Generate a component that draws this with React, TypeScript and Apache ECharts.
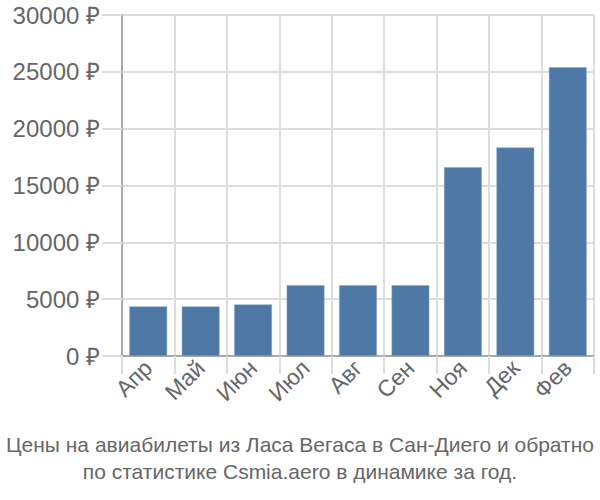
import React, { useEffect, useRef } from "react";
import * as echarts from "echarts";

const categories = ["Апр", "Май", "Июн", "Июл", "Авг", "Сен", "Ноя", "Дек", "Фев"];
const prices = [4360, 4360, 4540, 6220, 6220, 6220, 16600, 18340, 25400];
const titleLines = [
  "Цены на авиабилеты из Ласа Вегаса в Сан-Диего и обратно",
  "по статистике Csmia.aero в динамике за год.",
];

export default function App() {
  const ref = useRef<HTMLDivElement>(null);
  useEffect(() => {
    const chart = echarts.init(ref.current!, null, { renderer: "svg" });
    chart.setOption({
      animation: false,
      title: {
        text: titleLines.join("\n"),
        left: "center",
        top: 426,
        textStyle: {
          fontFamily: "Liberation Sans",
          fontSize: 21,
          fontWeight: "normal",
          color: "#666",
          lineHeight: 27,
        },
      },
      grid: { left: 122, right: 6, top: 15, bottom: 144 },
      xAxis: {
        type: "category",
        data: categories,
        axisLine: { lineStyle: { color: "#aaa", width: 2 } },
        axisTick: { show: true, length: 18, lineStyle: { color: "#ddd", width: 2 } },
        splitLine: { show: true, lineStyle: { color: "#ddd", width: 2 } },
        axisLabel: {
          rotate: 45,
          fontFamily: "Liberation Sans",
          fontSize: 23,
          color: "#666",
          margin: 8,
        },
      },
      yAxis: {
        type: "value",
        min: 0,
        max: 30000,
        interval: 5000,
        axisLine: { show: true, lineStyle: { color: "#aaa", width: 2 } },
        axisTick: { show: true, length: 20, lineStyle: { color: "#ddd", width: 2 } },
        splitLine: { show: true, lineStyle: { color: "#ddd", width: 2 } },
        axisLabel: {
          formatter: (v: number) => v + " ₽",
          fontFamily: "Liberation Sans",
          fontSize: 24,
          color: "#666",
          margin: 22,
        },
      },
      series: [
        {
          type: "bar",
          data: prices,
          barCategoryGap: "28%",
          itemStyle: { color: "#4e78a6", borderColor: "#8aa6c4", borderWidth: 0.5 },
        },
      ],
    });
    return () => chart.dispose();
  }, []);
  return <div ref={ref} style={{ width: 600, height: 500, position: "absolute", left: 0, top: 0 }} />;
}
